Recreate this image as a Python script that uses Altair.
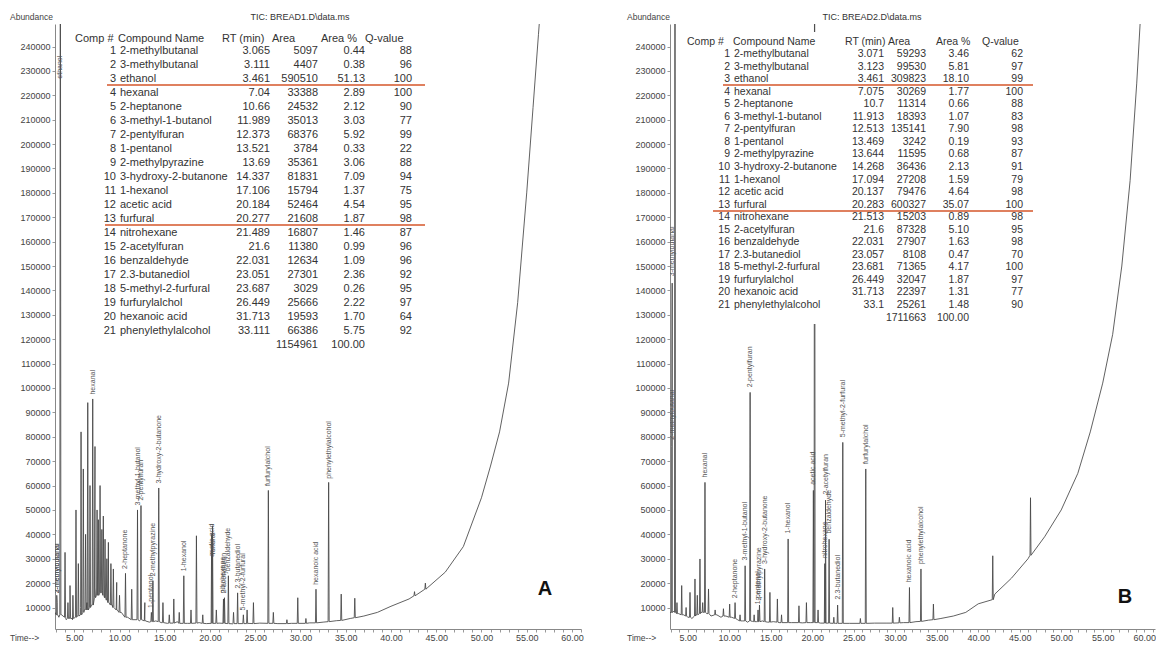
import altair as alt
import pandas as pd

FONT = "Liberation Sans"

# ---------------- table data ----------------
names = ["2-methylbutanal", "3-methylbutanal", "ethanol", "hexanal", "2-heptanone",
         "3-methyl-1-butanol", "2-pentylfuran", "1-pentanol", "2-methylpyrazine",
         "3-hydroxy-2-butanone", "1-hexanol", "acetic acid", "furfural", "nitrohexane",
         "2-acetylfuran", "benzaldehyde", "2.3-butanediol", "5-methyl-2-furfural",
         "furfurylalchol", "hexanoic acid", "phenylethylalcohol"]

a_rt = ["3.065", "3.111", "3.461", "7.04", "10.66", "11.989", "12.373", "13.521", "13.69", "14.337",
        "17.106", "20.184", "20.277", "21.489", "21.6", "22.031", "23.051", "23.687", "26.449",
        "31.713", "33.111"]
a_area = [5097, 4407, 590510, 33388, 24532, 35013, 68376, 3784, 35361, 81831, 15794, 52464,
          21608, 16807, 11380, 12634, 27301, 3029, 25666, 19593, 66386]
a_pct = ["0.44", "0.38", "51.13", "2.89", "2.12", "3.03", "5.92", "0.33", "3.06", "7.09", "1.37",
         "4.54", "1.87", "1.46", "0.99", "1.09", "2.36", "0.26", "2.22", "1.70", "5.75"]
a_q = [88, 96, 100, 100, 90, 77, 99, 22, 88, 94, 75, 95, 98, 87, 96, 96, 92, 95, 97, 64, 92]
a_total = ["1154961", "100.00"]

b_rt = ["3.071", "3.123", "3.461", "7.075", "10.7", "11.913", "12.513", "13.469", "13.644", "14.268",
        "17.094", "20.137", "20.283", "21.513", "21.6", "22.031", "23.057", "23.681", "26.449",
        "31.713", "33.1"]
b_area = [59293, 99530, 309823, 30269, 11314, 18393, 135141, 3242, 11595, 36436, 27208, 79476,
          600327, 15203, 87328, 27907, 8108, 71365, 32047, 22397, 25261]
b_pct = ["3.46", "5.81", "18.10", "1.77", "0.66", "1.07", "7.90", "0.19", "0.68", "2.13", "1.59",
         "4.64", "35.07", "0.89", "5.10", "1.63", "0.47", "4.17", "1.87", "1.31", "1.48"]
b_q = [62, 97, 99, 100, 88, 83, 98, 93, 87, 91, 79, 98, 100, 98, 95, 98, 70, 100, 97, 77, 90]
b_total = ["1711663", "100.00"]

# ---------------- chromatogram A (BREAD1) ----------------
a_base_t = [2.87, 3.3, 3.6, 4.1, 4.5, 4.8, 5.4, 5.7, 6.1, 6.4, 6.9, 7.3, 7.7, 8.1, 8.5, 8.8, 9.2,
            9.7, 10.2, 10.9, 11.6, 12.2, 12.8, 13.3, 14.0, 14.6, 15.3, 16.4, 17.5, 18.8, 19.6,
            21.0, 22.5, 24.2, 25.5, 27.5, 29.0, 31.0, 32.5, 34.0, 35.5, 37.0, 38.5, 40.0, 42.0,
            44.0, 46.0, 48.0, 50.0, 51.0, 52.0, 53.0, 54.0, 55.0, 55.7, 56.3, 56.8]
a_base_v = [8000, 6000, 7000, 5000, 6500, 5000, 7000, 10000, 9000, 12000, 11000, 18000, 15000,
            17000, 14000, 12500, 11000, 9000, 8000, 6000, 5000, 4500, 5000, 4000, 4500, 3800,
            3500, 4200, 3500, 3800, 3400, 3600, 3300, 3500, 3600, 3400, 3500, 3700, 4000, 4600,
            5500, 6500, 8000, 10500, 13500, 18000, 24500, 35000, 55000, 68000, 82000, 102000,
            135000, 180000, 215000, 245000, 270000]
a_peak_t = [3.065, 3.111, 3.461, 3.98, 4.3, 4.53, 4.85, 5.19, 5.45, 5.75, 6.0, 6.25, 6.49, 6.74,
            7.04, 7.29, 7.52, 7.66, 7.85, 8.05, 8.21, 8.4, 8.6, 8.77, 9.05, 9.32, 9.69, 10.0,
            10.66, 11.35, 11.989, 12.373, 12.8, 13.521, 13.69, 14.337, 14.8, 15.5, 16.0, 16.6,
            17.106, 17.9, 18.5, 19.2, 20.184, 20.277, 20.7, 21.489, 21.6, 22.031, 22.6, 23.051,
            23.687, 24.1, 24.8, 26.449, 27.0, 28.5, 29.7, 30.6, 31.713, 33.111, 34.5, 36.0,
            42.6, 43.8]
a_peak_h = [15000, 12000, 330000, 32600, 12000, 19000, 15000, 50000, 28000, 82000, 66800, 40000,
            94000, 60000, 95500, 76000, 50000, 46000, 60000, 42000, 47500, 38000, 30000, 36700,
            28000, 25800, 20300, 15000, 24000, 17500, 50000, 51800, 12000, 8000, 21000, 59000,
            12000, 7000, 13500, 8000, 23000, 9000, 39400, 7000, 40000, 43500, 9000, 13500, 14000,
            23000, 8000, 16000, 7000, 9000, 12000, 58000, 8000, 5000, 14000, 5500, 17500, 61300,
            15500, 13800, 16500, 20000]
a_peak_b = [7000, 7000, 7000, 6000, 5500, 5500, 5500, 6000, 6500, 7000, 8000, 9000, 9000, 10000,
            11000, 14000, 15000, 15000, 16000, 16000, 15000, 14000, 13000, 12000, 11000, 10000,
            9000, 8000, 6000, 5000, 5000, 5000, 4500, 4200, 4200, 4200, 3800, 3600, 3600, 3500,
            3500, 3500, 3600, 3500, 3500, 3500, 3500, 3500, 3500, 3400, 3400, 3400, 3400, 3400,
            3400, 3500, 3500, 3400, 3500, 3500, 3700, 4200, 4700, 5800, 14800, 17500]
a_lab_text = ["ethanol", "2-methylbutanal", "3-methylbutanal", "hexanal", "2-heptanone",
              "3-methyl-1-butanol", "2-pentylfuran", "1-pentanol", "2-methylpyrazine",
              "3-hydroxy-2-butanone", "1-hexanol", "acetic acid", "furfural", "nitrohexane",
              "2-acetylfuran", "benzaldehyde", "2.3-butanediol", "5-methyl-2-furfural",
              "furfurylalchol", "hexanoic acid", "phenylethylalcohol"]
a_lab_t = [3.461, 3.065, 3.111, 7.04, 10.66, 11.989, 12.373, 13.521, 13.69, 14.337, 17.106,
           20.184, 20.277, 21.489, 21.6, 22.031, 23.051, 23.687, 26.449, 31.713, 33.111]
a_lab_y = [226000, 15000, 15000, 96500, 25000, 51000, 53000, 9000, 22000, 60000, 24000, 30000,
           31000, 15000, 15000, 24000, 17000, 8000, 59000, 18500, 62000]

# ---------------- chromatogram B (BREAD2) ----------------
b_base_t = [2.86, 3.3, 3.9, 4.5, 5.0, 5.5, 6.0, 6.6, 7.3, 7.8, 8.5, 9.0, 9.6, 10.3, 11.0, 11.6,
            12.2, 12.8, 13.3, 14.0, 14.6, 15.3, 16.0, 17.5, 18.8, 19.8, 21.0, 22.8, 24.5, 26.0,
            27.5, 29.0, 31.0, 32.5, 34.0, 35.5, 37.0, 38.5, 40.0, 42.0, 44.0, 46.0, 48.0, 50.0,
            52.0, 53.5, 55.0, 56.2, 57.3, 58.3, 59.1, 59.6]
b_base_v = [8000, 8500, 7500, 7000, 6000, 5500, 7000, 8000, 7500, 6500, 7000, 6000, 6500, 6000,
            5000, 4500, 4000, 4300, 4200, 4500, 4000, 4200, 3800, 3800, 3700, 3800, 3600, 3500,
            3500, 3500, 3600, 3600, 3800, 4200, 4800, 5500, 6500, 8000, 11500, 15500, 22000,
            30000, 39000, 50000, 65000, 82000, 102000, 122000, 150000, 185000, 225000, 255000]
b_peak_t = [3.071, 3.123, 3.461, 3.7, 4.27, 4.8, 5.27, 5.87, 6.15, 6.47, 6.8, 7.075, 7.5, 8.3,
            9.3, 10.05, 10.7, 11.3, 11.913, 12.513, 13.0, 13.469, 13.644, 14.268, 14.9, 15.8,
            16.3, 17.094, 18.4, 19.3, 20.137, 20.283, 20.7, 21.513, 21.6, 22.031, 22.6, 23.057,
            23.681, 25.8, 26.449, 29.7, 30.5, 31.713, 33.1, 34.6, 41.75, 46.3]
b_peak_h = [76000, 143000, 330000, 12000, 19000, 10000, 16200, 21700, 15000, 29900, 12000, 61300,
            17600, 9000, 9500, 11400, 12000, 7000, 27100, 98200, 7000, 9000, 11000, 25800, 16200,
            13500, 7000, 38100, 10700, 12000, 58000, 330000, 9000, 28000, 54000, 38000, 6000,
            11000, 77700, 5500, 66800, 10000, 6000, 18200, 25800, 11400, 31200, 55000]
b_peak_b = [8000, 8000, 8000, 7500, 7000, 6500, 6000, 6500, 7000, 7500, 8000, 8000, 7500, 7000,
            6500, 6000, 5500, 4500, 4500, 4500, 4200, 4200, 4200, 4200, 4000, 4000, 3800, 3800,
            3800, 3800, 3800, 3800, 3800, 3600, 3600, 3600, 3500, 3500, 3500, 3500, 3500, 3600,
            3700, 3800, 4300, 5000, 13200, 31400]
b_lab_text = ["2-methylbutanal", "3-methylbutanal", "hexanal", "2-heptanone", "3-methyl-1-butanol",
              "2-pentylfuran", "1-pentanol", "2-methylpyrazine", "3-hydroxy-2-butanone",
              "1-hexanol", "acetic acid", "nitrohexane", "2-acetylfuran", "benzaldehyde",
              "2.3-butanediol", "5-methyl-2-furfural", "furfurylalchol", "hexanoic acid",
              "phenylethylalcohol"]
b_lab_t = [3.071, 3.123, 7.075, 10.7, 11.913, 12.513, 13.469, 13.644, 14.268, 17.094, 20.137,
           21.513, 21.6, 22.031, 23.057, 23.681, 26.449, 31.713, 33.1]
b_lab_y = [78000, 145000, 62500, 13000, 28500, 99500, 10500, 12000, 27000, 39500, 59500, 29500,
           55500, 39500, 12500, 79000, 68000, 19500, 27000]

# ---------------- layout constants ----------------
YMIN, YMAX = 1185, 249240
H = 605
PW = 0.06  # half width of a drawn peak (minutes)


def px_to_ab(py):
    return YMAX - py / H * (YMAX - YMIN)


def build_trace(bt, bv, pt, ph, pb):
    pts = list(zip(bt, bv))
    for t, h, b in zip(pt, ph, pb):
        pts += [(t - PW, b), (t, h), (t + PW, b)]
    df = pd.DataFrame(pts, columns=["t", "ab"]).sort_values("t").reset_index(drop=True)
    df["i"] = range(len(df))
    return df


def txt(s, x, y, size=9, color="#333", align="left", weight="normal"):
    return alt.Chart(pd.DataFrame({"s": [s]})).mark_text(
        font=FONT, fontSize=size, color=color, align=align, baseline="middle",
        fontWeight=weight).encode(x=alt.value(x), y=alt.value(y), text="s:N")


XAXIS = alt.Axis(values=list(range(3, 62)), title=None, grid=False, tickSize=3,
                 labelExpr="datum.value % 5 == 0 ? format(datum.value, '.2f') : ''",
                 labelFontSize=9, labelColor="#444", labelFont=FONT, domainColor="#888",
                 tickColor="#999", labelPadding=1, labelFlush=False, labelOverlap=False)
YAXIS = alt.Axis(values=list(range(10000, 250000, 10000)), format="d", title=None, grid=False,
                 tickSize=3, labelFontSize=9, labelColor="#444", labelFont=FONT,
                 domainColor="#888", tickColor="#999", labelPadding=2, labelOverlap=False)


def panel(title, rt, area, pct, q, total, bt, bv, pt, ph, pb, lt, ltx, ly,
          xdom, width, geo, letter, letter_xy, cover):
    xs = alt.Scale(domain=xdom, nice=False, zero=False)
    ys = alt.Scale(domain=[YMIN, YMAX], nice=False, zero=False)
    trace = build_trace(bt, bv, pt, ph, pb)
    line = alt.Chart(trace).mark_line(color="#444444", strokeWidth=0.85, clip=True).encode(
        x=alt.X("t:Q", scale=xs, axis=XAXIS),
        y=alt.Y("ab:Q", scale=ys, axis=YAXIS),
        order="i:Q")
    labs = alt.Chart(pd.DataFrame({"label": lt, "t": ltx, "y": ly})).mark_text(
        angle=270, align="left", baseline="middle", dx=2, fontSize=7, color="#555",
        font=FONT, clip=True).encode(x=alt.X("t:Q", scale=xs, axis=XAXIS),
                                     y=alt.Y("y:Q", scale=ys, axis=YAXIS),
                                     text="label:N")
    layers = [line, labs]
    if cover:
        layers.append(alt.Chart(pd.DataFrame({"k": [0]})).mark_rect(color="white").encode(
            x=alt.value(cover[0]), x2=alt.value(cover[1]),
            y=alt.value(cover[2]), y2=alt.value(cover[3])))
    # table
    g = geo
    rows = pd.DataFrame({
        "num": [str(i + 1) for i in range(len(names))],
        "name": names, "rt": rt, "area": [str(v) for v in area], "pct": pct,
        "q": [str(v) for v in q],
        "yab": [px_to_ab(g["row0"] + i * g["step"]) for i in range(len(names))],
    })
    base = alt.Chart(rows)
    col = dict(font=FONT, fontSize=g["fs"], color="#333", baseline="middle")
    for fld, xpos, al in [("num", g["num"], "right"), ("name", g["name"], "left"),
                          ("rt", g["rt"], "right"), ("area", g["area"], "right"),
                          ("pct", g["pct"], "right"), ("q", g["q"], "right")]:
        layers.append(base.mark_text(align=al, **col).encode(
            x=alt.value(xpos), y=alt.Y("yab:Q", scale=ys, axis=YAXIS), text=f"{fld}:N"))
    tot = pd.DataFrame({"area": [total[0]], "pct": [total[1]],
                        "yab": [px_to_ab(g["row0"] + len(names) * g["step"])]})
    for fld, xpos in [("area", g["area"]), ("pct", g["pct"])]:
        layers.append(alt.Chart(tot).mark_text(align="right", **col).encode(
            x=alt.value(xpos), y=alt.Y("yab:Q", scale=ys, axis=YAXIS), text=f"{fld}:N"))
    hy = g["hdr"]
    for s, xpos in [("Comp #", g["h_comp"]), ("Compound Name", g["h_name"]),
                    ("RT (min)", g["h_rt"]), ("Area", g["h_area"]), ("Area %", g["h_pct"]),
                    ("Q-value", g["h_q"])]:
        layers.append(txt(s, xpos, hy, size=g["fs"]))
    for (x1, x2, yy) in g["red"]:
        layers.append(alt.Chart(pd.DataFrame({"k": [0]})).mark_rule(
            color="#d4562a", strokeWidth=1.3).encode(
            x=alt.value(x1), x2=alt.value(x2), y=alt.value(yy)))
    layers.append(txt(title, g["title_x"], -7, size=9, align="center"))
    layers.append(txt("Abundance", g["lab_x"], -7, size=8.5, color="#444"))
    layers.append(txt("Time-->", g["lab_x"], H + 9, size=8.5, color="#444"))
    layers.append(txt(letter, letter_xy[0], letter_xy[1], size=20, color="#111",
                      align="center", weight="bold"))
    return alt.layer(*layers).properties(width=width, height=H)


geo_a = dict(hdr=15, row0=27, step=14.0, fs=11,
             num=61, name=65, rt=215, area=263, pct=310, q=357,
             h_comp=20, h_name=63, h_rt=167, h_area=217, h_pct=266, h_q=310,
             red=[(52, 370, 61), (50, 370, 201)], title_x=245, lab_x=-45)
geo_b = dict(hdr=18, row0=30, step=12.55, fs=10.5,
             num=60, name=64, rt=214, area=256, pct=299, q=353,
             h_comp=17, h_name=63, h_rt=175, h_area=218, h_pct=266, h_q=312,
             red=[(53, 363, 61), (43, 363, 187)], title_x=202, lab_x=-43)

left = panel("TIC: BREAD1.D\\data.ms", a_rt, a_area, a_pct, a_q, a_total,
             a_base_t, a_base_v, a_peak_t, a_peak_h, a_peak_b, a_lab_text, a_lab_t, a_lab_y,
             [2.87, 61.0], 526, geo_a, "A", (490, 565), None)
right = panel("TIC: BREAD2.D\\data.ms", b_rt, b_area, b_pct, b_q, b_total,
              b_base_t, b_base_v, b_peak_t, b_peak_h, b_peak_b, b_lab_text, b_lab_t, b_lab_y,
              [2.86, 61.3], 485, geo_b, "B", (455, 573), (13, 370, 8, 300))

chart = alt.hconcat(left, right, spacing=43).configure_view(stroke=None).configure_axis(
    labelOverlap=False).properties(
    padding={"left": 10, "top": 13, "right": 0, "bottom": 0})

chart.save("out.html", embed_options={"renderer": "svg", "actions": False})
